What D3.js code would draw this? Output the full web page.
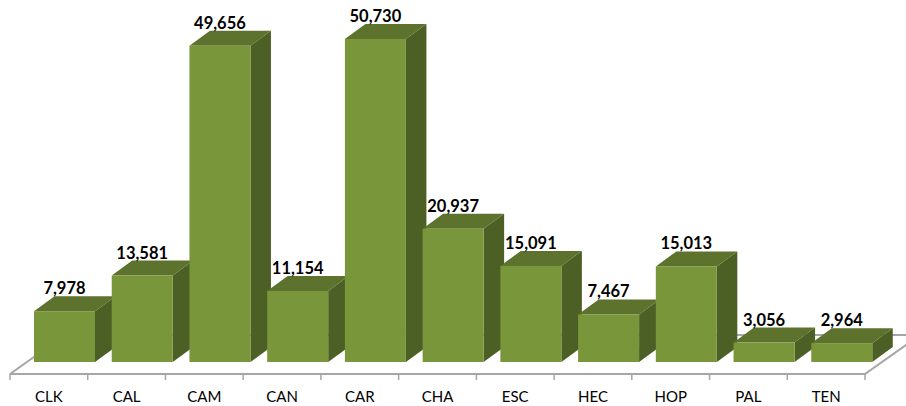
<!DOCTYPE html>
<html>
<head>
<meta charset="utf-8">
<script src="https://cdn.jsdelivr.net/npm/d3@7"></script>
<style>
  html, body { margin: 0; padding: 0; background: #fff; }
  svg { display: block; }
  text { font-family: Lato, "Open Sans", sans-serif; fill: #000; }
</style>
</head>
<body>
<div id="chart"></div>
<script>
var categories = ['CLK', 'CAL', 'CAM', 'CAN', 'CAR', 'CHA', 'ESC', 'HEC', 'HOP', 'PAL', 'TEN'];
var values = [7978, 13581, 49656, 11154, 50730, 20937, 15091, 7467, 15013, 3056, 2964];

var width = 906, height = 406;
var floorY = 374, baseY = 362;
var barW = 61, barOffset = 24;
var depthX = 20.5, depthY = 15;

var svg = d3.select('#chart').append('svg')
  .attr('width', width)
  .attr('height', height);

var x = d3.scaleBand().domain(categories).range([10, 865]);
var y = d3.scaleLinear().domain([0, 50730]).range([baseY, 39]);

function poly(pts) {
  return pts.map(function (p) { return p.join(','); }).join(' ');
}

// Floor of the 3d plot
var floor = svg.append('g')
  .attr('fill', 'none')
  .attr('stroke', '#a6a6a6')
  .attr('stroke-width', 2);
floor.append('polyline').attr('points', poly([[10, floorY], [865, floorY], [920, 335], [65, 335], [10, floorY]]));

// Axis labels
var axis = d3.axisBottom(x).tickSize(0).tickPadding(0);
var axisG = svg.append('g')
  .attr('transform', 'translate(0,' + (floorY + 17) + ')')
  .call(axis);
axisG.select('.domain').remove();
axisG.selectAll('text')
  .attr('font-size', '15px')
  .attr('dy', '0.71em')
  .attr('y', 0);

// Tick marks sit on band edges, not centres
svg.append('g')
  .selectAll('line')
  .data(categories.concat(['end']))
  .enter().append('line')
  .attr('x1', function (d) { return d === 'end' ? x.range()[1] : x(d); })
  .attr('x2', function (d) { return d === 'end' ? x.range()[1] : x(d); })
  .attr('y1', floorY)
  .attr('y2', floorY + 6)
  .attr('stroke', '#a6a6a6')
  .attr('stroke-width', 1.5);

var data = categories.map(function (c, i) { return { cat: c, val: values[i] }; });

var bars = svg.append('g')
  .selectAll('g')
  .data(data)
  .enter().append('g');

function left(d) { return x(d.cat) + barOffset; }

// Side face
bars.append('polygon')
  .attr('fill', '#4c5f25')
  .attr('points', function (d) {
    var l = left(d) + barW, t = y(d.val);
    return poly([[l, t], [l + depthX, t - depthY], [l + depthX, baseY - depthY], [l, baseY]]);
  });

// Top face
bars.append('polygon')
  .attr('fill', '#5d722d')
  .attr('points', function (d) {
    var l = left(d), t = y(d.val);
    return poly([[l, t], [l + depthX, t - depthY], [l + barW + depthX, t - depthY], [l + barW, t]]);
  });

// Front face
bars.append('rect')
  .attr('fill', '#7a963b')
  .attr('x', left)
  .attr('y', function (d) { return y(d.val); })
  .attr('width', barW)
  .attr('height', function (d) { return baseY - y(d.val); });

// Value labels
svg.append('g')
  .selectAll('text')
  .data(data)
  .enter().append('text')
  .attr('x', function (d) { return left(d) + barW / 2; })
  .attr('y', function (d) { return y(d.val) - depthY - 2; })
  .attr('text-anchor', 'middle')
  .attr('font-size', '16.5px')
  .attr('font-weight', 'bold')
  .text(function (d) { return d3.format(',')(d.val); });
</script>
</body>
</html>
